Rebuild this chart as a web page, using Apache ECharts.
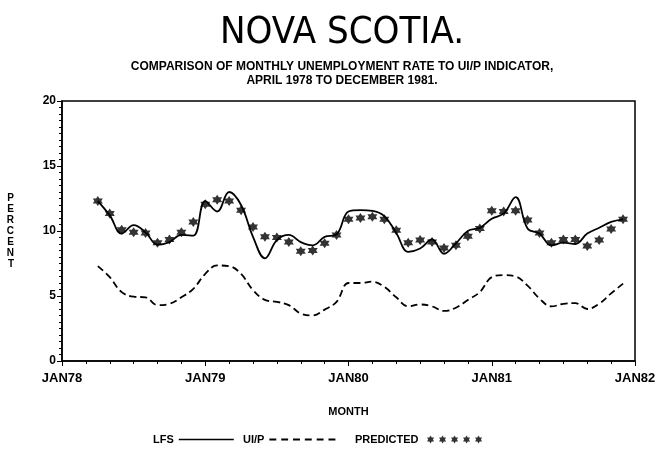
<!DOCTYPE html>
<html>
<head>
<meta charset="utf-8">
<script src="https://cdn.jsdelivr.net/npm/echarts@6/dist/echarts.min.js"></script>
<style>
  html, body { margin: 0; padding: 0; background: #fff; }
  #chart { width: 665px; height: 458px; }
</style>
</head>
<body>
<div id="chart"></div>
<script>
// months counted from JAN78, data starts APR78 (index 3)
const startMonth = 3;
const yearTicks = ['JAN78', 'JAN79', 'JAN80', 'JAN81', 'JAN82'];

// APR78 .. DEC81, percent
const lfs = [
  12.3, 11.2, 9.8, 10.45, 9.9, 8.95, 9.15, 9.7, 9.65,
  12.3, 11.5, 13.0, 12.0, 9.55, 7.9, 9.3, 9.7, 9.15, 8.9, 9.55, 9.75,
  11.5, 11.6, 11.55, 11.15, 9.85, 8.4, 8.65, 9.35, 8.25, 9.05, 10.0, 10.25,
  10.95, 11.35, 12.6, 10.2, 9.8, 8.9, 9.1, 9.0, 9.8, 10.25, 10.7, 10.9
];
const uip = [
  7.3, 6.45, 5.3, 4.95, 4.9, 4.3, 4.4, 4.9, 5.55,
  6.7, 7.35, 7.3, 6.7, 5.45, 4.7, 4.55, 4.3, 3.65, 3.5, 3.95, 4.55,
  6.0, 6.0, 6.1, 5.7, 4.9, 4.2, 4.35, 4.2, 3.85, 4.1, 4.7, 5.3,
  6.45, 6.6, 6.5, 5.8, 4.8, 4.2, 4.4, 4.45, 4.0, 4.4, 5.2, 5.95
];
const predicted = [
  12.3, 11.35, 10.1, 9.9, 9.85, 9.1, 9.35, 9.9, 10.7,
  12.05, 12.4, 12.3, 11.6, 10.3, 9.55, 9.5, 9.15, 8.45, 8.5, 9.05, 9.7,
  10.9, 11.0, 11.1, 10.9, 10.05, 9.1, 9.3, 9.15, 8.7, 8.9, 9.6, 10.2,
  11.55, 11.5, 11.55, 10.85, 9.85, 9.1, 9.35, 9.35, 8.85, 9.3, 10.15, 10.9
];

const toPairs = arr => arr.map((v, i) => [startMonth + i, v]);

const STAR = 'path://M10 0L13 5L18.66 5L16 10L18.66 15L13 15L10 20L7 15L1.34 15L4 10L1.34 5L7 5Z';
// five stars in a row for the legend
let fiveStars = 'path://';
for (let k = 0; k < 5; k++) {
  const o = k * 30;
  fiveStars += `M${10 + o} 0L${13 + o} 5L${18.66 + o} 5L${16 + o} 10L${18.66 + o} 15L${13 + o} 15L${10 + o} 20L${7 + o} 15L${1.34 + o} 15L${4 + o} 10L${1.34 + o} 5L${7 + o} 5Z`;
}
let dashes = 'path://';
for (let k = 0; k < 6; k++) dashes += `M${k * 12} 0h7v2h-7z`;

const font = "'Liberation Sans', Arial, sans-serif";
const lbl = { color: '#000', fontFamily: font, fontWeight: 'bold', fontSize: 11 };

const chart = echarts.init(document.getElementById('chart'));
chart.setOption({
  backgroundColor: '#fff',
  animation: false,
  title: [
    {
      text: 'NOVA SCOTIA.', left: 337, top: 9, textAlign: 'center',
      textStyle: { color: '#000', fontFamily: "'Liberation Sans Narrow', 'DejaVu Sans Condensed', sans-serif",
        fontWeight: 'lighter', fontSize: 38 }
    },
    {
      text: 'COMPARISON OF MONTHLY UNEMPLOYMENT RATE TO UI/P INDICATOR,\nAPRIL 1978 TO DECEMBER 1981.',
      left: 337, top: 55, textAlign: 'center',
      textStyle: { color: '#000', fontFamily: font, fontWeight: 'bold', fontSize: 12, lineHeight: 14, align: 'center' }
    }
  ],
  legend: [
    { data: ['LFS'], left: 148, top: 429, align: 'right', itemWidth: 55, itemHeight: 1.5, itemGap: 0,
      icon: 'rect', textStyle: lbl, itemStyle: { borderWidth: 0 } },
    { data: ['UI/P'], left: 238, top: 429, align: 'right', itemWidth: 66, itemHeight: 2,
      icon: dashes, textStyle: lbl, itemStyle: { borderWidth: 0 } },
    { data: ['PREDICTED'], left: 350, top: 429, align: 'right', itemWidth: 62, itemHeight: 8,
      icon: fiveStars, textStyle: lbl, itemStyle: { borderWidth: 0 } }
  ],
  grid: { left: 62, right: 30, top: 101, bottom: 97, show: true, borderColor: '#000', borderWidth: 1.5 },
  xAxis: {
    type: 'value', min: 0, max: 48, interval: 12,
    name: 'MONTH', nameLocation: 'middle', nameGap: 45, nameTextStyle: lbl,
    axisLine: { lineStyle: { color: '#000', width: 1.5 } },
    axisTick: { length: 5, lineStyle: { color: '#000' } },
    minorTick: { show: true, splitNumber: 6, length: 3, lineStyle: { color: '#000' } },
    splitLine: { show: false },
    axisLabel: { ...lbl, fontSize: 13, margin: 11, showMinLabel: true, showMaxLabel: true,
      formatter: v => yearTicks[v / 12] }
  },
  yAxis: {
    type: 'value', min: 0, max: 20, interval: 5,
    name: 'P\nE\nR\nC\nE\nN\nT', nameLocation: 'middle', nameRotate: 0, nameGap: 48,
    nameTextStyle: { ...lbl, fontSize: 10, lineHeight: 11 },
    axisLine: { show: true, lineStyle: { color: '#000', width: 1.5 } },
    axisTick: { show: true, length: 5, lineStyle: { color: '#000' } },
    minorTick: { show: true, splitNumber: 10, length: 3, lineStyle: { color: '#000' } },
    splitLine: { show: false },
    axisLabel: { ...lbl, fontSize: 12, margin: 6 }
  },
  series: [
    { name: 'LFS', type: 'line', data: toPairs(lfs), smooth: 0.4, showSymbol: false,
      color: '#000', lineStyle: { color: '#000', width: 1.8 } },
    { name: 'UI/P', type: 'line', data: toPairs(uip), smooth: 0.4, showSymbol: false,
      color: '#000', lineStyle: { color: '#000', width: 1.8, type: [7, 4] } },
    { name: 'PREDICTED', type: 'scatter', data: toPairs(predicted), symbol: STAR, symbolSize: 10,
      color: '#000', itemStyle: { color: '#000' } }
  ]
});
</script>
</body>
</html>
